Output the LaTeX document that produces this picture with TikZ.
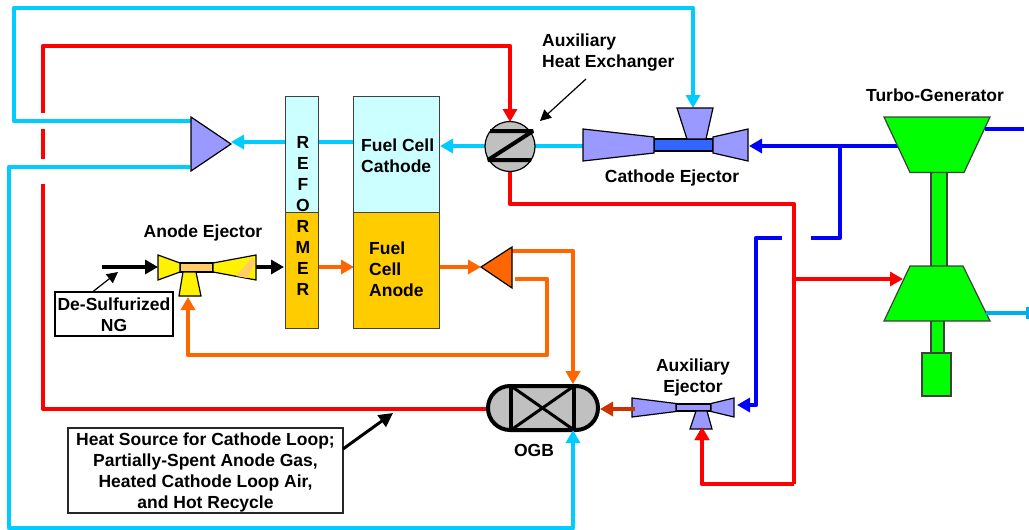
\documentclass[tikz,border=0pt]{standalone}
\usepackage{fontspec}
\setmainfont{Liberation Sans}
\usetikzlibrary{arrows.meta,calc}
\definecolor{skyc}{HTML}{00CCFF}
\definecolor{palec}{HTML}{CCFFFF}
\definecolor{gold}{HTML}{FFCC00}
\definecolor{orng}{HTML}{FF6600}
\definecolor{peri}{HTML}{9999FF}
\definecolor{tube}{HTML}{3366FF}
\definecolor{tan2}{HTML}{FFCC66}
\definecolor{rust}{HTML}{CC3300}
\definecolor{lime}{HTML}{00FF00}
\definecolor{grayf}{HTML}{C0C0C0}
\tikzset{
  pipe/.style={line width=4.2pt,line join=round,line cap=butt},
  flow/.style={pipe,-{Triangle[width=14pt,length=13pt]}},
  txt/.style={font=\fontsize{17.5}{21}\selectfont\bfseries,inner sep=0pt,align=center,text=black},
  txtl/.style={txt,align=left,anchor=west},
  box/.style={draw=black!75,line width=1.2pt,inner sep=0pt,anchor=north west},
  part/.style={draw=black,line width=1.2pt,line join=miter},
  leader/.style={draw=black,-{Triangle[width=11pt,length=11pt]}}
}
\begin{document}
\begin{tikzpicture}[x=1pt,y=-1pt]
\useasboundingbox (0,0) rectangle (1029,530);
% ports
\coordinate (mixTop) at (191,121);
\coordinate (mixBot) at (190,167);
\coordinate (mixTip) at (231,142);
\coordinate (refIn) at (284,267);
\coordinate (refOut) at (318,267);
\coordinate (refTop) at (284,142);
\coordinate (anIn) at (354,267);
\coordinate (anOut) at (439,267);
\coordinate (caOut) at (440,146);
\coordinate (hxL) at (485,146);
\coordinate (hxR) at (535,146);
\coordinate (hxT) at (510,122);
\coordinate (hxB) at (510,171);
\coordinate (cejL) at (583,146);
\coordinate (cejT) at (693,108);
\coordinate (cejR) at (749,146);
\coordinate (tgIn) at (902,146);
\coordinate (tgOut) at (985,129);
\coordinate (tgEnd) at (1024,129);
\coordinate (cpIn) at (903,279);
\coordinate (cpOut) at (986,313);
\coordinate (cpEnd) at (1027,313);
\coordinate (splitTip) at (481,267);
\coordinate (splitA) at (512,251);
\coordinate (splitB) at (515,279);
\coordinate (ogbT) at (573,384);
\coordinate (ogbB) at (573,430);
\coordinate (ogbL) at (489,409);
\coordinate (ogbR) at (600,409);
\coordinate (aejL) at (635,409);
\coordinate (aejR) at (737,405);
\coordinate (aejB) at (702,427);
\coordinate (anejL) at (158,267);
\coordinate (anejR) at (256,267);
\coordinate (anejB) at (188,297);
\coordinate (ngStart) at (102,267);
\coordinate (brBlue) at (840,146);
\coordinate (brBlueA) at (811,238);
\coordinate (brBlueB) at (782,238);
\coordinate (brRed) at (794,279);
% connectors
\draw[flow,skyc] (mixTop) -- (14,121) -- (14,8) -- (693,8) -- (cejT);
\draw[pipe,skyc] (mixBot) -- (9,167) -- (9,528) -- (573,528) -- (573,440);
\draw[pipe,red] (43,113) -- (43,46) -- (510,46) -- (510,110);
\draw[flow,red] (510,100) -- (hxT);
\draw[pipe,red] (43,129) -- (43,159);
\draw[pipe,red] (43,184) -- (43,409) -- (ogbL);
\draw[flow,skyc] (refTop) -- (mixTip);
\draw[pipe,skyc] (353,142) -- (refTop);
\draw[flow,skyc] (hxL) -- (caOut);
\draw[pipe,skyc] (hxR) -- (cejL);
\draw[flow,blue] (tgIn) -- (cejR);
\draw[pipe,blue] (brBlue) -- (840,238) -- (brBlueA);
\draw[flow,blue] (brBlueB) -- (756,238) -- (756,405) -- (aejR);
\draw[pipe,red] (hxB) -- (510,204) -- (794,204) -- (794,484);
\draw[flow,red] (794,484) -- (702,484) -- (aejB);
\draw[flow,red] (brRed) -- (cpIn);
\fill[cyan] (1026,307) rectangle (1029,319);
\draw[flow,black] (ngStart) -- (anejL);
\draw[flow,black] (anejR) -- (refIn);
\draw[flow,orng] (refOut) -- (anIn);
\draw[flow,orng] (anOut) -- (splitTip);
\draw[flow,orng] (splitA) -- (573,251) -- (ogbT);
\draw[flow,orng] (splitB) -- (547,279) -- (547,355) -- (188,355) -- (anejB);
% reformer and fuel cell
\node[box,fill=palec,minimum width=33pt,minimum height=116pt] (refU) at (285,96) {};
\node[box,fill=gold,minimum width=33pt,minimum height=116pt] (refL) at (285,212) {};
\node[box,fill=palec,minimum width=86pt,minimum height=116pt] (cath) at (353,96) {};
\node[box,fill=gold,minimum width=86pt,minimum height=116pt] (anod) at (353,212) {};
\node[txt] (refT) at (303,215.5) {R\\E\\F\\O\\R\\M\\E\\R};
\node[txtl] (cathT) at (361,155.5) {Fuel Cell\\Cathode};
\node[txtl] (anodT) at (369,269.5) {Fuel\\Cell\\Anode};
% splitters
\draw[part,fill=peri] (191,117) -- (191,171) -- (231,144) -- cycle;
\draw[part,fill=orng] (481,267) -- (512,247) -- (512,288) -- cycle;
% heat exchanger
\node[circle,draw=black,line width=1.2pt,fill=grayf,minimum size=50pt,inner sep=0pt] (hx) at (510,146.5) {};
\draw[line width=4pt,black,line join=bevel] (490,131) -- (533,131) -- (488,160) -- (531,160);
% cathode ejector
\draw[part,fill=tube] (654,139) rectangle (713,151);
\draw[part,fill=peri] (583,129) -- (654,137) -- (654,153) -- (583,161) -- cycle;
\draw[part,fill=peri] (713,137) -- (748,129) -- (748,161) -- (713,153) -- cycle;
\draw[part,fill=peri] (677,108) -- (713,108) -- (706,139) -- (687,139) -- cycle;
% anode ejector
\draw[part,fill=tan2] (180,263) rectangle (213,272);
\draw[part,fill=yellow] (158,255) -- (180,263) -- (180,272) -- (158,280) -- cycle;
\draw[part,fill=yellow] (213,263) -- (256,255) -- (256,280) -- (213,272) -- cycle;
\fill[tan2] (236,276) -- (252,258) -- (255.4,262) -- (247,278) -- cycle;
\draw[part,fill=yellow] (183,272) -- (196,272) -- (201,296) -- (179,296) -- cycle;
% auxiliary ejector
\draw[part,fill=peri] (676,404) rectangle (711,411);
\draw[part,fill=peri] (632,398) -- (676,403.5) -- (676,411.5) -- (632,417) -- cycle;
\draw[part,fill=peri] (711,403.5) -- (734,398) -- (734,417) -- (711,411.5) -- cycle;
\draw[part,fill=peri] (696,411) -- (707,411) -- (712,429) -- (690,429) -- cycle;
\draw[pipe,rust] (aejL) -- (620,409);
\draw[flow,red] (702,445) -- (aejB);
% OGB
\draw[line width=4pt,black,fill=grayf,rounded corners=22pt] (488,386) rectangle (598,430);
\draw[line width=4pt,black] (511,386) -- (511,430);
\draw[line width=4pt,black] (574,386) -- (574,430);
\draw[line width=3pt,black] (511,386) -- (574,430);
\draw[line width=3pt,black] (511,430) -- (574,386);
\draw[flow,orng] (573,365) -- (ogbT);
\draw[flow,skyc] (573,450) -- (ogbB);
\draw[flow,rust] (aejL) -- (ogbR);
% turbo-generator
\draw[part,draw=black!75,fill=lime] (931,172) rectangle (947,267);
\draw[part,draw=black!75,fill=lime] (884,117) -- (990,117) -- (964,172.5) -- (910,172.5) -- cycle;
\draw[part,draw=black!75,fill=lime] (931,320) rectangle (944,353);
\draw[part,draw=black!75,fill=lime] (910,266) -- (963,266) -- (990,321) -- (884,321) -- cycle;
\draw[part,draw=black!75,fill=lime] (922,353) rectangle (951,396);
\draw[pipe,cyan] (cpOut) -- (cpEnd);
\draw[pipe,blue] (tgOut) -- (tgEnd);
% labels
\node[txtl] (lblHx) at (542,53) {Auxiliary\\Heat Exchanger};
\node[txt] (lblCe) at (672,178) {Cathode Ejector};
\node[txt] (lblTg) at (935,95) {Turbo-Generator};
\node[txt] (lblAn) at (203,233) {Anode Ejector};
\node[txt] (lblAu) at (693,377.5) {Auxiliary\\Ejector};
\node[txt] (lblOg) at (534,450) {OGB};
\node[draw=black,line width=1.2pt,fill=white,minimum width=118pt,minimum height=44pt,inner sep=0pt] (ng) at (114,314) {};
\node[txt] (ngT) at (114,315) {De-Sulfurized\\NG};
\node[draw=black!85,line width=1.2pt,fill=white,minimum width=275pt,minimum height=85pt,inner sep=0pt] (heat) at (205.5,470.5) {};
\node[txt] (heatT) at (205.5,472.5) {Heat Source for Cathode Loop;\\Partially-Spent Anode Gas,\\Heated Cathode Loop Air,\\and Hot Recycle};
% leaders
\coordinate (hxNote) at (586,79);
\coordinate (hxNoteTip) at (540,121);
\coordinate (ngNote) at (93,291.5);
\coordinate (ngNoteTip) at (118,272);
\coordinate (heatNote) at (343,449);
\coordinate (heatNoteTip) at (393,413);
\draw[leader,line width=1.2pt] (hxNote) -- (hxNoteTip);
\draw[leader,line width=1.2pt] (ngNote) -- (ngNoteTip);
\draw[leader,line width=3pt,-{Triangle[width=14pt,length=14pt]}] (heatNote) -- (heatNoteTip);
\end{tikzpicture}
\end{document}
